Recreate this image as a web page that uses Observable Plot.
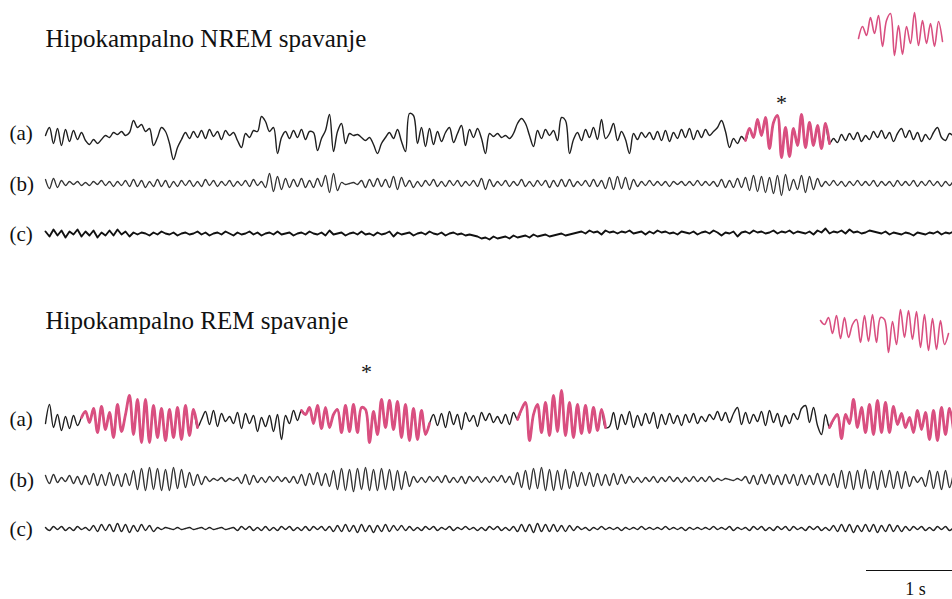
<!DOCTYPE html>
<html><head><meta charset="utf-8">
<script src="https://cdn.jsdelivr.net/npm/d3@7"></script>
<script src="https://cdn.jsdelivr.net/npm/@observablehq/plot@0.6"></script>
<style>html,body{margin:0;padding:0;background:#fff;}</style>
</head><body><div id="chart"></div>
<script>
// sampling: one value every 1/21.5 s (scale bar: 1 s)
const samplesPerSecond = 21.5;

// NREM traces (deflection, upward positive)
const nremA = [0,8,-8,7,-10,6,-6,5,-4,3, -5,-9,-4,-8, -4,0,-2,3,1,4,0,3, 15,8,11,4,7, -10,-2,8,4,-8,-24,-12,-4,
 3,-3,4,-2,5,-3,6,-1,4,-4,5,0,3, -5,-12,2,-2,5,4, 19,14,4,8, -18,-2, 4,-3,5,-2,6,-4,4, 3,-15,-3,5, 21,-16,4,12,-8,
 2,0,1,-2, -5,-2,-9,-18,-8, -2,3,-3,6,-6, -16,22,20,-8, 8,-11,7,-9,4,-6,3,8,-7,2,10,-10,6,-2,7,-3, -18,2,
 -1,2,-2,0,-3,2, 12,17,12,0,-11, 5,-3,6,0,5,-5, 18,15,-18,-4, 3,-5,6,-2,8,-4,16,-3,2,12,-5,4,-4,-18,2,-4,3,-2,3,
 -4,4,-5,5,-6,3,-3,6,-2,7,-4,5,-2,6,0,4, 8,15,4,-12,-3,-8,-1,
 -5,7,-2,16,0,18,-13,13,20,-22,8,-21,7,-10,21,-12,13,-10,10,-13,12,-8,
 -3,-7,1,-5,2,-4,3,-6,0,-4,4,-2,5,-3,3,-6,2,7,-2,5,-4,3,-6,1,-4,3,8,-2,-5,2,-1];
const nremB = [4,-5,5,-4,3, -2,2,-1,2,-2,1,-2,2,-1,3,-2,2,-3,2,-2,3,-3, 4,-3,3,-4,2,-3,4,-3,3,-4,2,-3,3,
 -2,3,-3,2,-3,4,-2,3,-3,2,-2,3,-3,2,-2,3,-3,4,-2,2, -4,10,-8,7,-6,5, -4,4,-3,5,-4,3,-4,5,-3, 8,-9,10,-7,
 1,-1,0,1,-1, 3,-4,4,-3,5,-3,4,-4, 7,-6,6, -3,3,-4,2,-3,3,-2,4,-3,2,-3,3,-2,3,-3,2,-2,3,
 -3,5,-6,4, -3,2,-2,3,-3,2,-2,4,-3,2,-3,3,-2,3,-4,3,-3,4,-3,4,-3,2,-2,3,-3,4,-3,3, -5,6,-6,7,-5,6,-6,4,
 -3,2,-2,3,-2,2,-2,2,-3,2,-1,2,-2,2,-2,3,-2,2,-2,2,-3, 4,-4,3,-4,5,-4,
 6,-7,8,-8,7,-9,6,-10,8,-12,9,-7,4,-6,8,-9,7,-6,5,
 -3,2,-2,3,-2,2,-3,2,-2,3,-2,2,-2,3,-3,2,-2,2,-3,3,-2,2,-2,3,-3,2,-2,3,-2,2,-3,2,-2,3];
const nremC = [2,-3,4,-2,3,-4,2,-1,4,-3,2,-2,3,-4,1,-2,3,-2,4,-1,2,-3,1,
 -1,1,0,-2,1,-1,2,0,-1,1,-2,0,1,-1,0,2,-1,1,-2,0,
 1,-1,2,0,-2,1,-1,0,2,-1,1,-2,0,1,-1,2,-1,0,1,-2,
 0,1,-1,2,0,-1,1,-2,3,-1,0,1,-2,0,1,-1,2,-1,0,-2,
 1,-1,0,2,-3,1,-1,0,1,-2,0,1,-1,2,0,-1,1,-2,0,1,
 -1,0,-2,-1,-2,
 -3,-5,-4,-6,-3,-5,-4,-3,-5,-2,-4,-3,-2,-4,-1,-3,-2,-1,-3,-2,-1,0,-2,-1,0,1,
 2,0,3,1,2,-1,3,1,2,0,2,1,3,0,1,2,-1,2,0,3,
 1,2,0,1,-1,2,1,0,2,-1,1,2,0,3,1,-2,1,0,2,-3,
 1,2,0,3,1,2,0,1,3,0,2,1,3,0,2,1,0,2,-1,3,
 1,5,0,2,1,3,0,4,1,2,0,1,3,2,1,0,2,-1,1,0,
 -1,1,0,-2,1,0,-1,1,0,2,-1,1,0,2];

// REM traces
const remA = [-6,13,-10,3,-13,1,-11,2,-8,0, 6,-5,9,-15,11,-12,5,-20,
 13,-14,3,22,-17,18,-25,18,-25,12,-20,9,-23,8,-20,10,-22,12,-18,8,-10,
 -2,6,-7,7,-9,4,-4,1,-6,5,-11,4,-6,2,-14,0,-9,2,-14,3,-22,2,-6,7,-3,7,
 3,10,-6,12,-11,10,-10,3,8,-15,12,-14,13,-15,10,
 8,-25,6,-17,18,-10,17,-12,16,-20,13,-23,9,-22,7,-17,-6,
 3,-8,4,-10,6,-7,3,-12,5,-4,2,-9,5,-3,4,-5,1,-6,3,-7,5,-2,
 8,15,-23,3,13,-15,15,-18,22,-14,27,-18,15,-20,13,-16,12,-15,10,-13,8,-10,
 -9,5,-12,3,-7,6,-10,2,-8,4,-6,5,-11,3,-7,4,-6,2,-8,3,-5,4,-6,1,-4,3,-2,6,-3,5,
 -5,4,10,-7,5,-6,3,-4,6,-8,7,-5,4,-9,2,-6,4,-2,9,12,-5,10,-8,-17,3,-10,
 -2,3,-21,3,-6,18,-10,10,-15,13,-17,17,-15,15,-15,11,-7,4,-10,0,-15,7,-12,5,-22,7,-23,10,-17,9,-13];
const remB = [4,-4,5,-3,2,-2,4,-4,3,-5,4, -5,6,-6,5,-6,7,-6,5,-7,6,-6,
 9,-10,11,-11,12,-10,11,-11,10,-11,12,-9,10,-8, 7,-6,5,-5,3, -2,1,-1,2,-2,1,-1,2, -4,5,-5,4,
 -3,2,-3,3,-2,3,-2,2,-3,3, -4,5,-6,6,-5,7,-6,6,-7,
 9,-10,11,-11,10,-12,11,-10,12,-11,10,-11,11,-10,10,-11,9,-10,8,-7,
 3,-3,2,-3,3,-2,3,-3,4,-3,2,-3,3,-4,3,-2, 3,-3,2,-3,3,-2,4,-3,3,
 -5,7,-8,9,-10,11,-9,12,-11,10,-11,9,-10,10,-9,8, -7,7,-6,7,-7,6,-6,5,-6,6,-5,5,-4,
 3,-3,2,-3,2,-2,3,-3,2,-2,3,-2,2,-3,2,-2,3,-2,2,-2,3,-2, 1,-1,1,0,-1,1,-1,
 3,-4,4,-5,5,-4,5,-5,4,-5,5,-4,5,-6,5,-5,4,-5,6,-5,5,-6,6,
 -8,9,-9,8,-10,9,-9,10,-9,8,-10,9,-8,9,-9,8,-9,8,-7, 3,-3,2, -7,9,-9,8,-10,9,-8,7];
const remC = [1,-2,2,-1,2,-2,1,-2,2,-1,1,-2, 3,-3,4,-2,4,-3,5,-3,4,-4,3,-3,4,-2,3,-3,
 1,-1,1,0,-1,1,-1,0,1,-1,0,1,-1,1,-1,0,1,-1,0,1,
 -2,2,-1,2,-2,1,-2,2,-2,1,-2,2,-1,2,-2,1,-2,2,-2,2,-1,2,-2,2,
 -3,3,-3,4,-3,3,-4,4,-3,3,-4,3,-3,4,-3,3,-2,3,-2, 2,-2,1,-2,2,-1,2,-2,1,-1,2,-2,1,-1,2,-1,1,
 -2,1,-2,2,-1,2,-2,1,-2,2, -3,4,-3,4,-4,5,-3,4,-3,4,-3,3,-3,3,-2,
 2,-1,1,-2,1,-1,2,-1,1,-1,1,-2,1,-1,1,-1,2,-1,1,-1,1,-1,2,-1,1,-1,1,-2,1,-1,1,-1,1,-1,2,-1,1,-1,2,-2,1,-1,1,
 -2,2,-1,2,-2,1,-2,2,-1,2,-2,2,-1,1,-2,2,-1,2,-2,1,-2,
 3,-3,4,-3,4,-4,3,-3,4,-3,4,-4,3,-3,4,-3,3,-3,2, -2,2,-1,2,-2,1,-2,2,-1,2,-2,1];

// highlighted (sample index ranges) and their magnified copies
const nremHighlight = [[175, 196]];
const remHighlight = [[9, 38], [64, 96], [118, 140], [196, 227]];
const titles = ["Hipokampalno NREM spavanje", "Hipokampalno REM spavanje"];
const rowLabels = ["(a)", "(b)", "(c)"];
const scaleLabel = "1 s";

// ---- layout ----
const W = 952, H = 599, X0 = 45, PXS = 86; // px per second
const tEnd = (W - X0) / PXS;
const t = px => (px - X0) / PXS;
const BLACK = "#1f1f1f", PINK = "#d94f80";
const CURVE = "catmull-rom";

function series(vals, base, from = 0, to = vals.length - 1, shiftPx = 0) {
  const out = [];
  for (let i = from; i <= to && i < vals.length; i++)
    out.push({t: i / samplesPerSecond + shiftPx / PXS, y: base - vals[i]});
  return out;
}

const rows = [
  {vals: nremA, base: 135, w: 1.4, c: BLACK, curve: CURVE},
  {vals: nremB, base: 183, w: 1.3, c: "#333", curve: CURVE},
  {vals: nremC, base: 233, w: 1.9, c: "#111", curve: "linear"},
  {vals: remA, base: 417, w: 1.4, c: BLACK, curve: CURVE},
  {vals: remB, base: 479, w: 1.4, c: "#333", curve: CURVE},
  {vals: remC, base: 528, w: 1.4, c: "#222", curve: CURVE}
];

const marks = [];
for (const r of rows) marks.push(Plot.line(series(r.vals, r.base), {x: "t", y: "y", stroke: r.c, strokeWidth: r.w, strokeLinejoin: "round", curve: r.curve}));
for (const [a, b] of nremHighlight) marks.push(Plot.line(series(nremA, 135, a, b), {x: "t", y: "y", stroke: PINK, strokeWidth: 2.8, strokeLinejoin: "round", curve: CURVE}));
for (const [a, b] of remHighlight) marks.push(Plot.line(series(remA, 417, a, b), {x: "t", y: "y", stroke: PINK, strokeWidth: 2.8, strokeLinejoin: "round", curve: CURVE}));
// magnified insets
marks.push(Plot.line(series(nremA, 33, 175, 196, 113), {x: "t", y: "y", stroke: PINK, strokeWidth: 1.6, strokeLinejoin: "round", curve: CURVE}));
marks.push(Plot.line(series(remA, 327, 64, 96, 519), {x: "t", y: "y", stroke: PINK, strokeWidth: 1.6, strokeLinejoin: "round", curve: CURVE}));

const serif = "'Liberation Serif', 'Times New Roman', serif";
const textRows = [
  {x: t(45), y: 38, s: titles[0], f: 25},
  {x: t(45), y: 320, s: titles[1], f: 25},
  {x: t(9), y: 133, s: rowLabels[0], f: 21},
  {x: t(9), y: 184, s: rowLabels[1], f: 21},
  {x: t(9), y: 234, s: rowLabels[2], f: 21},
  {x: t(9), y: 419, s: rowLabels[0], f: 21},
  {x: t(9), y: 480, s: rowLabels[1], f: 21},
  {x: t(9), y: 529, s: rowLabels[2], f: 21}
];
for (const d of textRows) marks.push(Plot.text([d], {x: "x", y: "y", text: "s", fontSize: d.f, fontFamily: serif, textAnchor: "start", fill: "#111"}));
marks.push(Plot.text([{x: t(781), y: 102}, {x: t(366), y: 371}], {x: "x", y: "y", text: () => "*", fontSize: 22, fontFamily: serif, fill: "#111"}));
// scale bar: 1 s
marks.push(Plot.ruleY([570], {x1: tEnd - 1, x2: tEnd, stroke: "#111", strokeWidth: 1}));
marks.push(Plot.text([scaleLabel], {x: tEnd - 0.43, y: 589, text: d => d, fontSize: 18, fontFamily: serif, fill: "#111"}));

const chart = Plot.plot({
  width: W, height: H,
  marginTop: 0, marginRight: 0, marginBottom: 0, marginLeft: 0,
  x: {domain: [0, tEnd], range: [X0, W], axis: null},
  y: {domain: [0, H], range: [0, H], axis: null},
  style: {background: "#fff", overflow: "hidden"},
  marks
});
document.getElementById("chart").appendChild(chart);
</script>
</body></html>
